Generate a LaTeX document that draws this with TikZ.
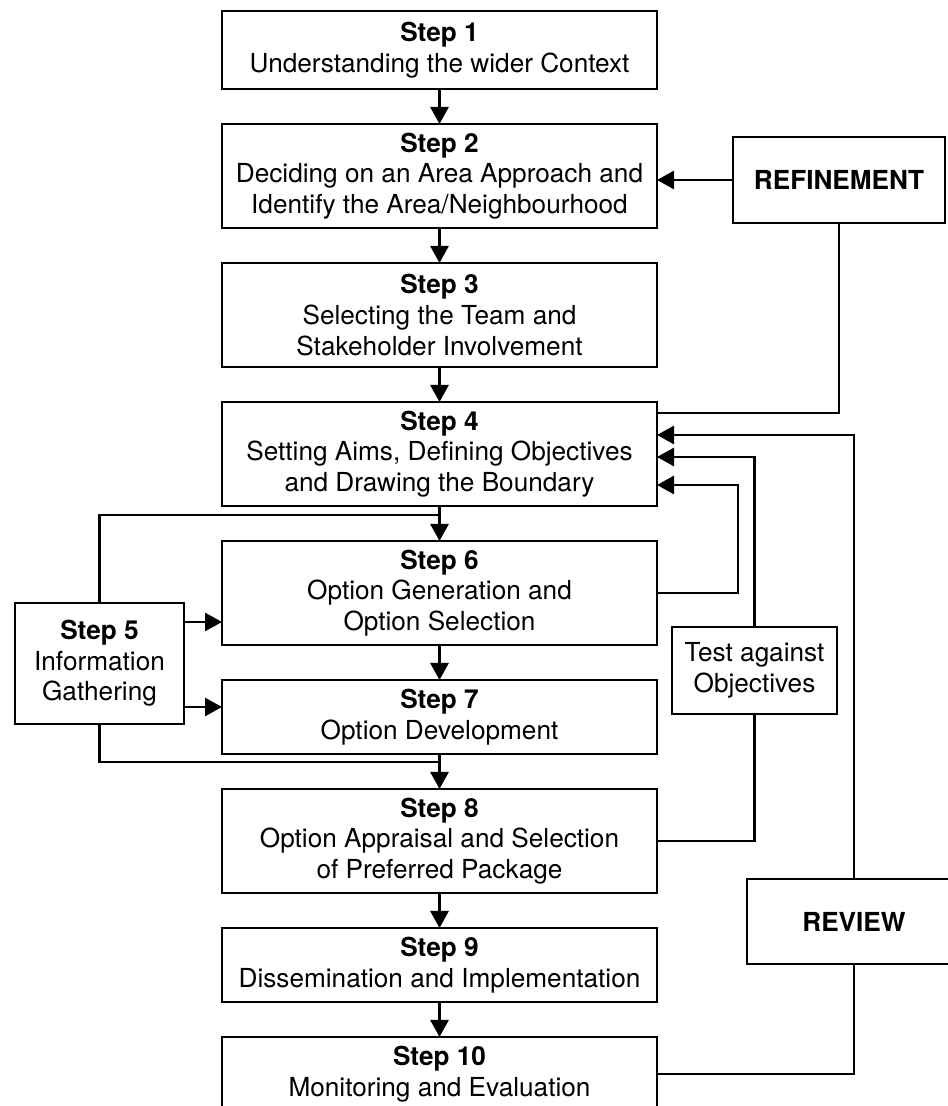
\documentclass[tikz,border=0pt]{standalone}
\usepackage{fontspec}
\setmainfont{TeX Gyre Heros}
\usepackage{tikz}
\usetikzlibrary{positioning,arrows.meta,calc}

\begin{document}
\begin{tikzpicture}[
        node distance=0.7cm,
        block/.style={rectangle, draw, line width=1.6pt, outer sep=0pt, minimum width=8.7cm, minimum height=2.08cm, inner sep=2pt, align=center, font=\fontsize{14.9}{17.4}\selectfont},
        short/.style={block, minimum height=1.48cm},
        side/.style={block, minimum width=3.3cm, minimum height=1.74cm},
        loopline/.style={line width=1.6pt},
        >={Triangle[length=3.4mm, width=3.6mm]}
      ]

      \useasboundingbox (0,0) rectangle (18.94,22.12);

      % Main column
      \node[block, minimum height=1.56cm] (step1) at (8.79, 21.12) {\textbf{Step 1}\\Understanding the wider Context};
      \node[block, below=of step1] (step2) {\textbf{Step 2}\\Deciding on an Area Approach and\\Identify the Area/Neighbourhood};
      \node[block, below=of step2] (step3) {\textbf{Step 3}\\Selecting the Team and\\Stakeholder Involvement};
      \node[block, below=of step3] (step4) {\textbf{Step 4}\\Setting Aims, Defining Objectives\\and Drawing the Boundary};
      \node[block, below=of step4] (step6) {\textbf{Step 6}\\Option Generation and\\Option Selection};
      \node[short, below=of step6] (step7) {\textbf{Step 7}\\Option Development};
      \node[block, below=of step7] (step8) {\textbf{Step 8}\\Option Appraisal and Selection\\of Preferred Package};
      \node[short, below=of step8] (step9) {\textbf{Step 9}\\Dissemination and Implementation};
      \node[short, below=of step9] (step10) {\textbf{Step 10}\\Monitoring and Evaluation};

      % Side boxes
      \node[side, minimum width=3.38cm, minimum height=2.42cm] (step5) at (1.99, 8.85) {\textbf{Step 5}\\Information\\Gathering};
      \node[side] (test) at (15.09, 8.71) {Test against\\Objectives};
      \node[side, minimum width=4.24cm, minimum height=1.72cm] (refine) at (16.78, 18.52) {\textbf{REFINEMENT}};
      \node[side, minimum width=4.28cm, minimum height=1.7cm] (review) at (17.08, 3.69) {\textbf{REVIEW}};

      % Join points
      \coordinate (join4) at ([yshift=-1.8mm]step4.south);
      \coordinate (join7) at ([yshift=-1.6mm]step7.south);
      \coordinate (loop6) at ([xshift=16.2mm]step6.east);

      % Connections
      \draw[->, loopline] (step1) -- (step2);
      \draw[->, loopline] (step2) -- (step3);
      \draw[->, loopline] (step3) -- (step4);
      \draw[->, loopline] (step4) -- (step6);
      \draw[->, loopline] (step6) -- (step7);
      \draw[->, loopline] (step7) -- (step8);
      \draw[->, loopline] (step8) -- (step9);
      \draw[->, loopline] (step9) -- (step10);

      % Information gathering
      \draw[loopline] (step5.north) |- (join4);
      \draw[loopline] (step5.south) |- (join7);
      \draw[->, loopline] ([yshift=8.3mm]step5.east) -- ([yshift=8.3mm]step5.east -| step6.west);
      \draw[->, loopline] ([yshift=-8.7mm]step5.east) -- ([yshift=-8.7mm]step5.east -| step7.west);

      % Refinement
      \draw[->, loopline] (refine.west) -- (refine.west -| step2.east);
      \draw[line width=1pt] (refine.south) |- ([yshift=8.2mm]step4.east);

      % Loops back to step 4
      \draw[->, loopline] (review.north) |- ([yshift=3.8mm]step4.east);
      \draw[->, loopline] (test.north) |- ([yshift=-0.6mm]step4.east);
      \draw[->, loopline] (step6.east) -- (loop6) |- ([yshift=-6.2mm]step4.east);
      \draw[loopline] (step8.east) -| (test.south);
      \draw[loopline] (review.south) |- (step10.east);

    \end{tikzpicture}
\end{document}
